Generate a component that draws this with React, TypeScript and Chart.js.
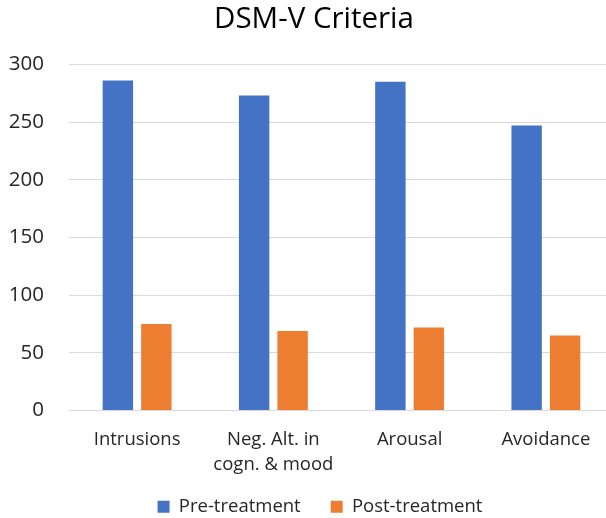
import React, { useEffect, useRef } from "react";
import { Chart, registerables } from "chart.js";

Chart.register(...registerables);

const categories: (string | string[])[] = ["Intrusions", ["Neg. Alt. in", "cogn. & mood"], "Arousal", "Avoidance"];
const preTreatment = [286, 273, 285, 247];
const postTreatment = [75, 69, 72, 65];
const yTicks = [0, 50, 100, 150, 200, 250, 300];

const FONT = "'Open Sans', 'Noto Sans', sans-serif";

const nudge = {
  id: "nudge",
  afterLayout(chart: any) {
    // let the two-line category labels draw below the axis box
    if (chart.scales.x) chart.scales.x.bottom += 20;
    if (chart.legend) {
      chart.legend.left += 9;
      chart.legend.right += 9;
    }
    if (chart.titleBlock) {
      chart.titleBlock.left += 3;
      chart.titleBlock.right += 3;
    }
  },
};

export default function App() {
  const ref = useRef<HTMLCanvasElement | null>(null);
  useEffect(() => {
    if (!ref.current) return;
    const chart = new Chart(ref.current, {
      type: "bar",
      data: {
        labels: categories,
        datasets: [
          {
            label: "Pre-treatment",
            data: preTreatment,
            backgroundColor: "#4472C4",
            categoryPercentage: 0.565,
            barPercentage: 0.79,
          },
          {
            label: "Post-treatment",
            data: postTreatment,
            backgroundColor: "#ED7D31",
            categoryPercentage: 0.565,
            barPercentage: 0.79,
          },
        ],
      },
      plugins: [nudge],
      options: {
        responsive: false,
        animation: false,
        layout: { padding: { left: 8, right: 16, top: 0, bottom: 0 } },
        plugins: {
          title: {
            display: true,
            text: "DSM-V Criteria",
            color: "#000000",
            font: { family: FONT, size: 29.5, weight: "normal" },
            padding: { top: 2, bottom: 27 },
          },
          legend: {
            position: "bottom",
            labels: {
              color: "#262626",
              font: { family: FONT, size: 18.5 },
              boxWidth: 12,
              boxHeight: 12,
              padding: 30,
            },
          },
          tooltip: { enabled: false },
        },
        scales: {
          x: {
            grid: { display: false },
            border: { display: false },
            afterFit: (axis: any) => {
              axis.height = 57;
            },
            ticks: {
              color: "#262626",
              font: { family: FONT, size: 18.5, lineHeight: 1.35 },
              padding: 9,
              maxRotation: 0,
              autoSkip: false,
            },
          },
          y: {
            min: 0,
            max: 300,
            afterBuildTicks: (axis: any) => {
              axis.ticks = yTicks.map((v) => ({ value: v }));
            },
            afterFit: (axis: any) => {
              axis.width = 61;
            },
            grid: { color: "#D9D9D9", lineWidth: 1, drawTicks: false },
            border: { display: false },
            ticks: {
              color: "#262626",
              font: { family: FONT, size: 20.5 },
              padding: 25,
            },
          },
        },
      },
    });
    return () => chart.destroy();
  }, []);
  return (
    <div style={{ position: "fixed", left: 0, top: 0, width: 606, height: 518, overflow: "hidden", background: "#fff" }}>
      <canvas ref={ref} width={630} height={526} style={{ width: 630, height: 526, display: "block" }} />
    </div>
  );
}
